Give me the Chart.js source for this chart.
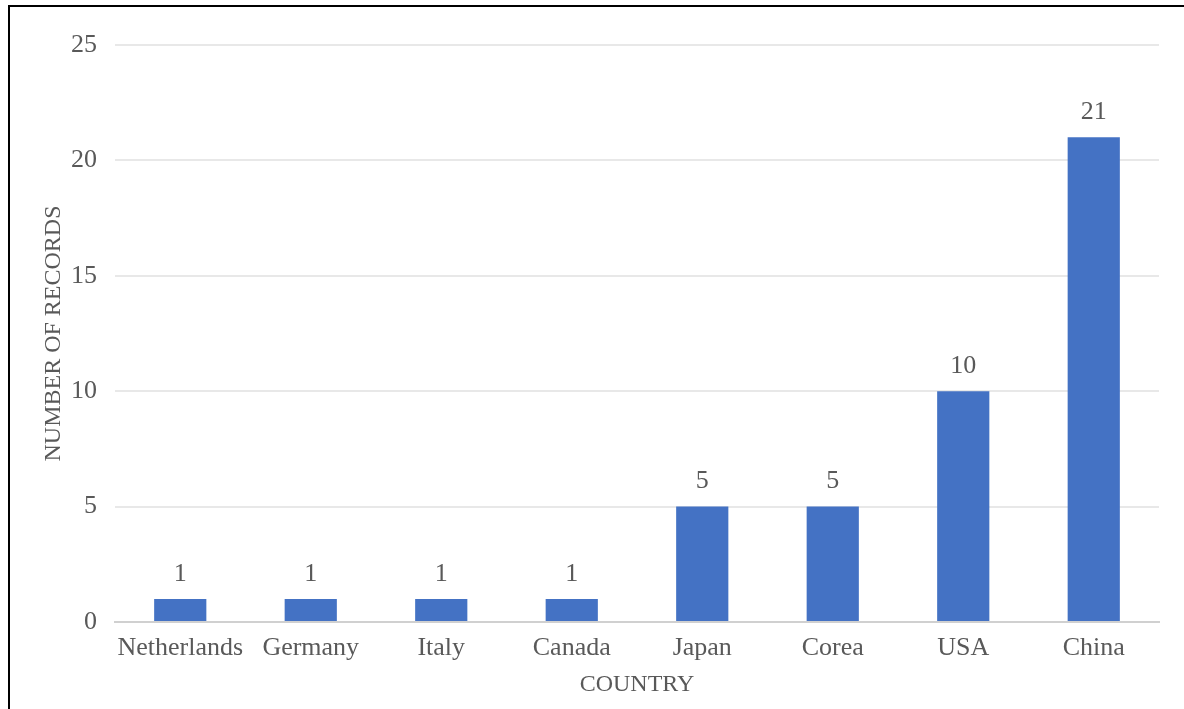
<!DOCTYPE html>
<html>
<head>
<meta charset="utf-8">
<script src="https://cdn.jsdelivr.net/npm/chart.js@4.4.1/dist/chart.umd.min.js"></script>
<style>
    html, body { margin: 0; padding: 0; background: #fff; }
    #wrap { position: relative; width: 1184px; height: 709px; overflow: hidden; }
    #frame { position: absolute; left: 8px; top: 5px; width: 1190px; height: 720px;
             border-left: 2px solid #000; border-top: 2px solid #000; box-sizing: border-box; }
    canvas { position: absolute; left: 0; top: 0; }
</style>
</head>
<body>
<div id="wrap">
    <div id="frame"></div>
    <canvas id="chart" width="1184" height="709"></canvas>
</div>
<script>
// Data
const countries = ["Netherlands", "Germany", "Italy", "Canada", "Japan", "Corea", "USA", "China"];
const records = [1, 1, 1, 1, 5, 5, 10, 21];
const yTicks = [0, 5, 10, 15, 20, 25];

const textColor = '#595959';
const fontFamily = '"Liberation Serif", "Times New Roman", serif';
const fontSize = 26;

// Value labels above bars
const barLabels = {
    id: 'barLabels',
    afterDatasetsDraw(chart) {
        const ctx = chart.ctx;
        const meta = chart.getDatasetMeta(0);
        ctx.save();
        ctx.fillStyle = textColor;
        ctx.font = `${fontSize}px ${fontFamily}`;
        ctx.textAlign = 'center';
        ctx.textBaseline = 'bottom';
        meta.data.forEach((bar, i) => {
            ctx.fillText(records[i], bar.x, bar.y - 12);
        });
        ctx.restore();
    }
};

const ctx = document.getElementById('chart').getContext('2d');
new Chart(ctx, {
    type: 'bar',
    data: {
        labels: countries,
        datasets: [{
            data: records,
            backgroundColor: '#4472C4',
            categoryPercentage: 1,
            barPercentage: 0.4
        }]
    },
    options: {
        responsive: false,
        animation: false,
        layout: { padding: { left: 39, top: 45, right: 25, bottom: 10 } },
        plugins: {
            legend: { display: false },
            tooltip: { enabled: false }
        },
        scales: {
            x: {
                grid: { display: false, drawTicks: false },
                border: { color: '#d0d0d0', width: 2 },
                ticks: {
                    color: textColor,
                    font: { family: fontFamily, size: fontSize },
                    padding: 11,
                    maxRotation: 0,
                    autoSkip: false
                },
                title: {
                    display: true,
                    text: 'COUNTRY',
                    color: textColor,
                    font: { family: fontFamily, size: 24 },
                    padding: { top: 4, bottom: 0 }
                },
                afterFit: (s) => { s.height = 77; }
            },
            y: {
                min: 0,
                max: 25,
                afterBuildTicks: (s) => { s.ticks = yTicks.map(v => ({ value: v })); },
                grid: { color: '#e8e8e8', lineWidth: 2, drawTicks: false },
                border: { display: false },
                ticks: {
                    color: textColor,
                    font: { family: fontFamily, size: fontSize },
                    padding: 18
                },
                title: {
                    display: true,
                    text: 'NUMBER OF RECORDS',
                    color: textColor,
                    font: { family: fontFamily, size: 24 },
                    padding: { top: 0, bottom: 0 }
                },
                afterFit: (s) => { s.width = 76; }
            }
        }
    },
    plugins: [barLabels]
});
</script>
</body>
</html>
